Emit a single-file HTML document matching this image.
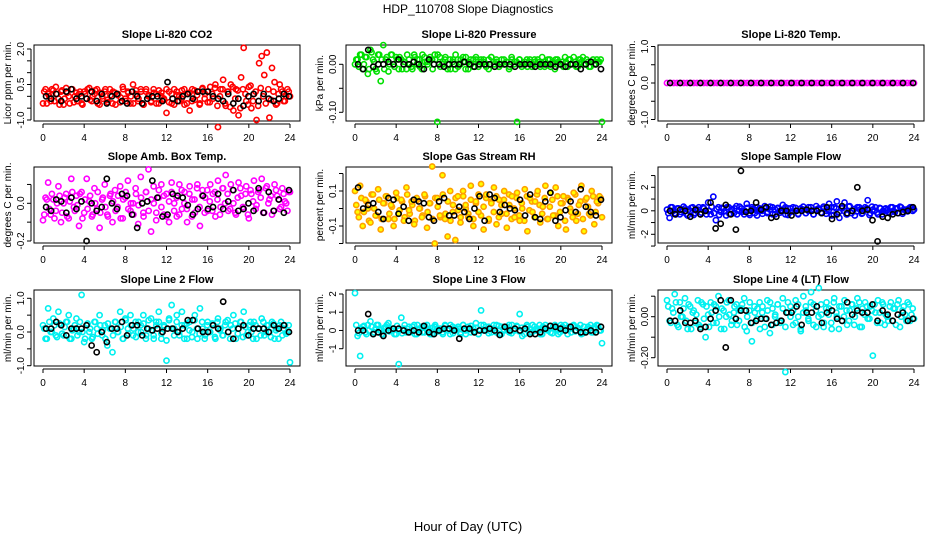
<!DOCTYPE html>
<html><head><meta charset="utf-8"><style>
html,body{margin:0;padding:0;background:#fff;}
svg{display:block;font-family:"Liberation Sans",Arial,sans-serif;}
</style></head><body>
<svg id="chart" width="936" height="540" viewBox="0 0 936 540">
<text x="468" y="13" text-anchor="middle" font-size="12">HDP_110708  Slope Diagnostics</text>
<text x="468" y="531" text-anchor="middle" font-size="13">Hour of Day (UTC)</text>
</svg>
<script>
const panelTitles = ["Slope Li-820 CO2","Slope Li-820 Pressure","Slope Li-820 Temp.","Slope Amb. Box Temp.","Slope Gas Stream RH","Slope Sample Flow","Slope Line 2 Flow","Slope Line 3 Flow","Slope Line 4 (LT) Flow"];
const yTitles = ["Licor ppm per min.","kPa per min.","degrees C per min.","degrees C per min.","percent per min.","ml/min per min.","ml/min per min.","ml/min per min.","ml/min per min."];
const xTicks = [0,4,8,12,16,20,24];
const yTickVals = [[-1,-0.5,0,0.5,1,1.5,2],[0,-0.05,-0.1],[-1,-0.5,0,0.5,1],[-0.2,-0.1,0,0.1],[-0.2,-0.1,0,0.1,0.2],[-3,-2,-1,0,1,2,3],[-1,-0.5,0,0.5,1],[-1,0,1,2],[-0.2,-0.1,0,0.1]];
const yTickLabels = [{"-1":"-1.0","0.5":"0.5","2":"2.0"},{"0":"0.00","-0.1":"-0.10"},{"1":"1.0","0":"0.0","-1":"-1.0"},{"0":"0.0","-0.2":"-0.2"},{"0.1":"0.1","-0.1":"-0.1"},{"2":"2","0":"0","-2":"-2"},{"1":"1.0","0":"0.0","-1":"-1.0"},{"2":"2","1":"1","0":"0","-1":"-1"},{"0":"0.00","-0.2":"-0.20"}];
const c1 = [-0.3,0.3,0.1,-0.2,0.25,0.4,-0.1,0.2,-0.35,0.35,0.0,0.3,-0.25,0.15,0.1,-0.3,0.2,-0.1,0.35,-0.2,0.1,0.3,-0.35,0.0,0.2,-0.15,0.3,-0.3,0.15,0.05,-0.25,0.4,-0.1,0.2,-0.3,0.5,0.1,-0.2,0.3,-0.35,0.2,0.0,-0.25,0.3,0.1,-0.3,0.15,-0.1,-0.7,0.2,-0.3,0.3,0.05,-0.2,0.25,-0.35,0.1,-0.6,0.3,-0.15,0.2,-0.3,0.35,0.1,-0.25,0.4,-0.1,0.5,-1.3,0.3,0.7,-0.4,0.2,0.5,-0.6,0.3,-0.8,0.8,2.05,-0.2,0.4,-0.5,0.1,-1.0,1.4,1.7,0.9,1.85,-0.9,1.2,0.6,-0.3,0.5,0.2,-0.2,0.3,0.0];
const b1 = [0.2,-0.3,0.0,0.3,-0.2,0.1,-0.35,0.25,-0.1,0.15,-0.3,0.3,0.0,-0.2,0.2,-0.35,0.1,0.3,-0.15,0.0,0.25,-0.3,0.15,-0.1,0.3,-0.25,0.05,0.2,-0.35,0.1,-0.05,0.3,-0.2,0.15,0.0,-0.3,0.25,-0.1,0.2,-0.35,0.3,0.05,-0.2,0.15,-0.3,0.25,0.0,-0.15,0.3,-0.25,0.1,-0.35,0.2,0.0,-0.1,0.3,-0.3,0.15,-0.2,0.25,0.05,-0.35,0.3,-0.1,0.2,-0.25,0.1,0.35,-0.4,0.0,0.3,-0.3,0.2,-0.45,0.4,-0.1,0.25,-0.5,0.3,0.1,-0.35,0.45,-0.2,0.2,-0.4,0.35,0.0,-0.3,0.3,-0.15,0.2,-0.35,0.1,0.3,-0.2,0.0,0.2];
const k1 = [0.0,-0.1,0.1,-0.2,0.2,0.3,-0.1,0.0,-0.1,0.2,-0.2,0.1,-0.3,0.0,0.1,-0.2,-0.3,0.2,0.0,-0.3,-0.1,0.0,0.0,-0.2,0.6,-0.1,-0.2,0.0,0.1,-0.1,0.2,0.2,0.2,0.0,-0.1,-0.2,0.1,-0.3,-0.1,-0.4,0.0,0.1,-0.2,0.1,-0.1,-0.2,-0.1,0.1,0.0];
const c2 = [0.0,0.01,0.02,-0.01,0.015,-0.02,0.03,0.01,-0.01,0.02,-0.035,0.04,0.01,-0.015,0.02,0.0,0.015,-0.01,0.01,0.005,-0.01,0.01,-0.005,0.02,0.0,0.01,-0.01,0.015,0.005,0.01,0.01,0.02,-0.12,0.015,0.0,0.01,-0.01,0.01,0.005,-0.01,0.01,0.0,0.015,-0.01,0.005,0.01,-0.005,0.01,0.0,0.01,0.005,-0.005,0.01,0.015,0.0,0.005,-0.005,0.01,0.0,0.005,-0.005,0.01,0.005,-0.12,0.01,0.0,0.005,-0.005,0.01,0.0,0.005,0.01,-0.005,0.0,0.005,0.01,-0.005,0.0,0.01,0.005,0.0,-0.005,0.005,0.01,0.0,0.015,-0.005,0.01,0.005,0.0,0.01,-0.005,0.005,0.0,0.01,0.005,-0.12];
const b2 = [0.01,-0.005,0.02,0.0,0.015,-0.01,0.025,0.005,-0.015,0.02,0.01,-0.01,0.015,0.0,0.02,-0.005,0.01,0.015,-0.01,0.005,0.02,0.0,-0.01,0.015,0.01,-0.005,0.02,0.005,0.0,0.015,-0.01,0.01,0.02,-0.005,0.005,0.015,0.0,-0.01,0.01,0.02,-0.005,0.01,0.005,0.015,-0.01,0.0,0.01,0.015,-0.005,0.005,0.01,0.0,-0.01,0.015,0.005,0.01,-0.005,0.0,0.01,0.005,-0.01,0.015,0.0,0.005,0.01,-0.005,0.0,0.01,0.005,-0.005,0.01,0.0,0.005,0.015,-0.005,0.0,0.01,0.005,-0.01,0.01,0.0,0.005,0.015,-0.005,0.01,0.0,0.005,-0.005,0.01,0.015,0.0,0.005,-0.005,0.01,0.0,0.005,0.01];
const k2 = [0.0,-0.01,0.03,-0.005,0.0,0.0,0.005,0.0,0.01,0.0,0.0,0.005,0.0,-0.01,0.01,0.0,0.0,-0.005,0.0,0.0,0.0,0.005,0.0,-0.005,0.0,0.0,0.0,-0.005,0.0,0.0,0.0,-0.005,0.0,0.0,0.0,-0.005,0.0,0.0,0.0,-0.005,0.0,-0.005,0.0,0.0,-0.01,0.0,0.005,0.0,-0.01];
const c3 = [0,0,0,0,0,0,0,0,0,0,0,0,0,0,0,0,0,0,0,0,0,0,0,0,0,0,0,0,0,0,0,0,0,0,0,0,0,0,0,0,0,0,0,0,0,0,0,0,0,0,0,0,0,0,0,0,0,0,0,0,0,0,0,0,0,0,0,0,0,0,0,0,0,0,0];
const b3 = [];
const k3 = [0,0,0,0,0,0,0,0,0,0,0,0,0,0,0,0,0,0,0,0,0,0,0,0,0];
const c4 = [-0.09,0.03,0.11,-0.06,0.02,-0.04,0.09,-0.1,0.0,0.05,-0.08,0.13,-0.02,0.04,-0.12,0.06,-0.05,0.13,0.01,-0.07,0.08,-0.03,-0.13,0.02,0.1,-0.06,0.04,-0.1,0.07,-0.02,0.09,-0.08,0.03,0.12,-0.04,0.0,0.08,-0.11,0.14,-0.05,0.06,0.18,-0.15,0.09,-0.09,0.03,0.1,-0.06,0.05,-0.1,0.11,0.0,-0.07,0.1,-0.03,0.06,-0.1,0.09,0.02,-0.05,0.1,-0.12,0.07,0.03,-0.04,0.1,0.05,-0.07,0.12,-0.02,0.08,0.15,-0.04,0.1,0.0,-0.06,0.11,0.04,-0.03,0.09,-0.08,0.05,0.12,-0.01,0.07,0.13,-0.05,0.09,0.02,-0.06,0.1,0.04,-0.03,0.08,0.01,-0.04,0.06];
const b4 = [-0.06,0.02,-0.03,0.05,-0.08,0.0,0.04,-0.05,0.03,-0.07,0.01,0.06,-0.04,-0.01,0.05,-0.08,0.02,-0.03,0.04,-0.06,0.0,0.06,-0.05,0.03,-0.02,-0.07,0.05,0.01,-0.04,0.04,-0.08,0.02,0.06,-0.03,0.0,-0.06,0.05,-0.01,0.03,-0.07,0.06,-0.04,0.02,0.0,-0.05,0.07,-0.02,0.04,-0.07,0.01,0.06,-0.04,0.03,-0.06,0.07,0.0,-0.03,0.05,-0.07,0.02,0.08,-0.02,0.04,-0.05,0.07,0.01,-0.04,0.06,0.02,-0.06,0.08,0.0,0.05,-0.03,0.07,-0.05,0.03,0.08,-0.02,0.05,-0.06,0.07,0.01,-0.03,0.06,0.03,-0.05,0.08,0.0,0.04,-0.04,0.07,0.02,-0.02,0.05,0.0,0.06];
const k4 = [-0.02,-0.04,0.02,0.01,-0.05,0.03,-0.03,0.01,-0.2,0.0,-0.04,-0.02,0.13,0.0,-0.03,0.05,0.04,-0.06,-0.13,0.0,0.01,0.12,0.03,-0.07,-0.06,0.05,0.04,0.03,-0.01,-0.06,-0.03,0.04,-0.03,-0.02,0.05,-0.03,0.01,0.07,-0.04,-0.03,0.0,-0.04,0.08,-0.05,0.06,-0.04,0.02,-0.05,0.07];
const c5 = [0.1,-0.02,0.13,-0.1,0.05,0.0,-0.08,0.08,-0.04,0.11,-0.12,0.03,0.07,-0.06,0.02,-0.1,0.09,-0.03,0.05,-0.07,0.12,-0.01,0.04,-0.09,0.06,0.0,-0.05,0.08,-0.11,0.03,0.24,-0.2,0.06,-0.04,0.19,-0.06,-0.16,0.1,-0.02,-0.18,0.07,-0.08,0.1,0.02,-0.05,0.13,-0.1,0.04,-0.02,0.14,-0.12,0.08,-0.06,0.03,0.12,-0.09,0.05,-0.03,0.1,-0.11,0.02,0.07,-0.05,0.09,-0.07,0.0,0.11,-0.13,0.06,-0.02,0.04,0.1,-0.08,0.01,0.13,-0.06,0.09,-0.04,0.12,-0.1,0.03,0.07,-0.12,0.05,-0.02,0.09,-0.07,0.02,0.13,-0.13,0.06,-0.03,0.1,-0.09,0.04,0.07,-0.05];
const b5 = [0.02,-0.05,0.06,-0.02,0.04,-0.07,0.08,0.0,-0.04,0.05,-0.06,0.03,0.07,-0.03,0.01,-0.06,0.06,-0.01,0.04,-0.05,0.08,-0.03,0.02,-0.07,0.05,0.0,-0.04,0.07,-0.02,0.03,-0.06,0.06,0.01,-0.05,0.08,-0.03,0.04,-0.07,0.02,0.06,-0.01,-0.05,0.07,0.0,-0.03,0.05,-0.06,0.03,0.08,-0.04,0.01,0.06,-0.07,0.04,-0.02,0.07,-0.05,0.02,0.05,-0.03,0.08,-0.06,0.0,0.06,-0.04,0.03,-0.07,0.07,-0.01,0.04,-0.05,0.08,0.02,-0.03,0.06,-0.06,0.01,0.05,-0.04,0.07,-0.02,0.03,-0.07,0.06,0.0,-0.05,0.08,-0.03,0.04,-0.06,0.05,0.01,-0.04,0.07,-0.02,0.03,0.06];
const k5 = [0.12,0.0,0.02,0.03,-0.02,-0.06,0.06,0.05,-0.03,0.01,-0.07,0.05,0.04,0.03,-0.05,-0.07,0.04,0.06,-0.04,-0.04,0.01,-0.02,-0.06,0.0,0.07,-0.07,0.08,0.06,-0.02,0.02,0.0,-0.01,0.05,-0.04,0.08,-0.05,-0.06,0.04,0.09,-0.07,-0.05,-0.01,0.04,-0.02,0.11,0.01,-0.02,-0.04,0.05];
const c6 = [0.1,-0.6,0.3,-0.2,0.2,-0.3,0.1,0.2,-0.4,0.0,0.3,-0.2,0.1,-0.3,0.3,0.0,0.7,-0.3,1.2,-0.8,0.3,-0.1,0.2,-0.4,0.3,0.1,-0.2,0.4,0.0,0.2,-0.3,0.6,-0.2,0.3,0.1,-0.4,0.2,0.0,0.4,-0.2,0.1,0.3,-0.3,0.2,0.0,0.5,-0.3,0.2,-0.1,0.3,0.0,-0.3,0.2,0.1,-0.2,0.3,0.0,-0.3,0.4,0.1,-0.2,0.2,0.0,0.6,-0.4,0.3,0.8,-0.6,0.2,0.7,-0.3,0.4,0.0,-0.4,0.3,0.1,-0.2,0.3,0.9,-0.2,0.1,0.3,-0.3,0.2,0.0,0.2,-0.1,0.3,0.0,0.2,-0.2,0.3,0.1,0.0,0.2,0.3,0.1];
const b6 = [-0.2,0.3,0.0,-0.3,0.2,-0.1,0.35,-0.25,0.1,0.25,-0.35,0.05,0.3,-0.15,0.2,-0.3,0.0,0.35,-0.2,0.15,-0.35,0.25,-0.05,0.3,-0.25,0.1,0.2,-0.3,0.35,-0.1,0.0,0.25,-0.35,0.15,-0.2,0.3,0.05,-0.25,0.2,-0.1,0.35,-0.3,0.1,0.25,-0.15,0.0,0.3,-0.35,0.2,-0.05,0.25,-0.25,0.15,0.35,-0.2,0.0,0.3,-0.3,0.1,0.2,-0.15,0.35,-0.25,0.05,0.3,-0.35,0.2,-0.1,0.25,0.0,-0.3,0.35,-0.2,0.15,-0.05,0.3,-0.25,0.1,0.2,-0.35,0.35,0.0,-0.15,0.25,-0.3,0.15,0.05,-0.2,0.3,-0.1,0.2,0.35,-0.25,0.1,-0.05,0.3,0.0];
const k6 = [0.0,-0.3,0.1,0.0,-0.5,0.1,-0.3,0.0,0.7,-1.5,-1.1,0.5,-0.3,-1.6,3.4,-0.1,0.0,0.7,0.1,0.3,-0.6,-0.5,0.0,0.0,-0.4,0.0,0.0,0.1,0.0,0.0,-0.2,0.3,-0.7,-0.3,0.4,-0.2,0.0,2.0,0.0,0.1,-0.8,-2.6,-0.5,-0.6,-0.3,-0.2,-0.1,0.0,0.3];
const c7 = [0.2,-0.2,0.7,0.0,0.4,-0.1,0.6,0.2,-0.1,0.3,0.5,-0.2,0.1,0.4,0.0,1.1,-0.3,0.2,0.0,-0.2,0.3,0.1,0.5,-0.1,0.2,-0.4,0.1,-0.6,0.3,0.0,0.6,-0.2,0.4,0.1,0.5,-0.1,0.3,0.0,0.2,0.5,-0.2,0.1,0.4,-0.1,0.3,0.6,-0.2,0.2,-0.85,0.4,0.8,0.1,0.5,-0.1,0.6,0.2,-0.2,0.3,0.0,0.5,-0.2,0.7,0.1,-0.1,0.3,0.0,0.2,-0.2,0.4,0.1,-0.1,0.3,0.0,0.2,0.5,-0.2,0.1,0.3,0.6,-0.1,0.2,0.0,0.3,-0.2,0.1,0.4,-0.1,0.2,0.0,0.3,-0.2,0.1,0.2,-0.1,0.2,0.0,-0.9];
const b7 = [0.1,-0.2,0.3,0.0,0.2,-0.15,0.25,-0.05,0.15,0.3,-0.2,0.05,0.2,-0.1,0.3,0.0,-0.2,0.25,0.1,-0.15,0.3,-0.05,0.2,0.05,-0.2,0.25,0.1,-0.1,0.3,0.0,0.15,-0.2,0.35,-0.05,0.2,0.1,-0.15,0.3,0.0,0.25,-0.1,0.35,0.05,-0.2,0.2,0.3,-0.05,0.15,-0.25,0.35,0.1,-0.1,0.3,0.0,0.2,-0.2,0.25,0.05,-0.15,0.35,0.1,-0.05,0.3,-0.2,0.2,0.0,0.25,-0.15,0.3,0.05,-0.1,0.2,0.35,-0.2,0.1,0.25,-0.05,0.3,-0.15,0.15,0.0,0.3,-0.2,0.2,0.1,-0.1,0.3,0.0,0.2,-0.15,0.25,0.05,-0.2,0.3,0.1,-0.05,0.2];
const k7 = [0.1,0.1,0.3,0.2,-0.1,0.1,0.1,0.1,0.2,-0.4,-0.6,0.0,-0.3,0.1,0.1,0.3,-0.1,0.2,0.2,-0.1,0.1,0.05,0.1,0.0,0.1,0.1,0.0,0.1,0.35,0.35,0.1,0.0,0.0,0.2,0.1,0.9,0.0,-0.2,0.1,0.2,-0.1,0.1,0.1,0.1,0.0,0.2,0.1,0.2,0.0];
const c8 = [2.05,-0.3,-1.4,0.2,-0.1,0.3,0.5,-0.2,0.1,0.3,0.0,-0.2,0.2,0.4,0.0,0.1,-0.2,-1.85,0.7,0.1,-0.1,0.2,0.0,0.3,-0.2,0.1,0.2,-0.1,0.3,0.0,-0.2,0.2,0.1,0.0,-0.1,0.3,0.1,-0.2,0.2,0.0,0.1,-0.2,0.3,0.0,0.2,-0.1,0.1,0.4,-0.2,1.1,0.3,0.0,0.2,-0.1,0.1,0.3,-0.2,0.2,0.0,0.1,-0.1,0.3,0.0,0.2,0.9,-0.3,0.1,0.2,-0.1,0.3,0.0,0.1,-0.2,0.2,0.3,0.0,-0.1,0.2,0.1,-0.2,0.3,0.0,0.1,0.2,-0.1,0.3,0.0,0.1,-0.2,0.2,0.0,0.1,-0.1,0.2,0.3,0.0,-0.7];
const b8 = [0.3,-0.15,0.1,0.25,-0.2,0.0,0.2,-0.1,0.3,0.05,-0.2,0.15,0.3,-0.05,0.1,-0.2,0.25,0.0,-0.15,0.3,0.1,-0.1,0.2,-0.2,0.3,0.05,-0.1,0.25,0.0,-0.2,0.15,0.3,-0.05,0.1,-0.2,0.25,0.0,0.3,-0.15,0.1,0.2,-0.1,0.3,-0.2,0.05,0.25,-0.05,0.15,-0.2,0.3,0.0,0.2,-0.15,0.1,0.3,-0.1,0.25,-0.2,0.05,0.2,0.3,-0.15,0.0,0.25,-0.05,0.15,-0.2,0.3,0.1,-0.1,0.2,0.0,0.3,-0.2,0.15,0.05,0.25,-0.15,0.3,0.0,-0.1,0.2,0.3,-0.2,0.1,0.25,-0.05,0.15,0.3,-0.15,0.0,0.2,0.3,-0.1,0.1,0.25,0.0];
const k8 = [0.0,0.0,0.9,-0.2,-0.1,-0.3,0.0,0.1,0.1,0.0,-0.1,0.0,-0.1,0.25,-0.1,-0.2,0.0,0.1,0.1,0.0,-0.45,0.1,0.1,-0.1,0.0,0.0,0.1,0.0,-0.25,0.2,0.0,0.1,0.0,0.1,-0.2,-0.2,-0.1,0.1,0.25,0.2,0.1,0.0,0.2,0.0,-0.1,-0.1,0.0,-0.1,0.2];
const c9 = [0.08,-0.02,0.04,0.11,-0.04,0.07,0.0,0.09,-0.06,0.05,0.02,-0.03,0.08,-0.05,0.06,-0.1,0.01,0.07,-0.03,0.05,0.1,-0.06,0.03,0.0,0.08,-0.04,0.02,0.06,-0.02,0.04,0.09,-0.07,0.03,-0.12,0.05,-0.01,0.07,0.02,-0.05,0.08,-0.08,0.04,0.0,0.06,-0.03,0.09,-0.27,0.02,0.05,-0.04,0.08,0.0,-0.07,0.1,0.03,-0.02,0.12,0.06,-0.05,0.14,0.01,-0.03,0.07,0.04,-0.06,0.09,0.0,0.05,-0.02,0.08,-0.04,0.03,0.06,0.0,0.09,-0.05,0.04,0.07,-0.01,0.05,-0.19,0.02,0.08,-0.03,0.06,0.01,-0.02,0.07,0.04,-0.04,0.08,0.0,0.05,-0.02,0.06,0.01,-0.01];
const b9 = [0.05,-0.03,0.02,0.07,-0.05,0.0,0.04,-0.02,0.06,-0.06,0.03,0.01,-0.04,0.07,-0.01,0.05,-0.05,0.02,0.06,-0.03,0.0,0.04,-0.06,0.07,0.01,-0.02,0.05,-0.04,0.03,0.06,-0.05,0.0,0.07,-0.03,0.02,0.04,-0.06,0.05,-0.01,0.03,0.07,-0.04,0.01,0.06,-0.02,0.04,-0.05,0.07,0.0,0.03,-0.03,0.06,-0.06,0.02,0.05,-0.01,0.07,-0.04,0.03,0.0,0.06,-0.05,0.04,0.01,-0.03,0.07,0.02,-0.06,0.05,0.0,0.03,-0.02,0.06,-0.04,0.04,0.07,-0.05,0.01,0.05,-0.01,0.03,0.06,-0.03,0.02,0.07,-0.04,0.0,0.05,-0.02,0.04,0.06,-0.05,0.03,0.01,0.07,-0.02,0.04];
const k9 = [-0.02,-0.02,0.03,-0.03,-0.03,-0.02,-0.06,-0.05,-0.01,0.03,0.08,-0.15,0.08,-0.01,0.03,0.03,-0.03,-0.02,-0.01,-0.01,-0.04,-0.03,-0.02,0.02,0.02,0.05,-0.04,0.02,0.02,0.05,-0.03,0.02,0.03,-0.01,-0.02,0.07,0.01,0.03,0.02,0.02,0.06,-0.02,0.03,0.01,-0.02,0.01,0.02,-0.02,-0.01];
const colorSeries = [c1,c2,c3,c4,c5,c6,c7,c8,c9];
const bandSeries = [b1,b2,b3,b4,b5,b6,b7,b8,b9];
const blackSeries = [k1,k2,k3,k4,k5,k6,k7,k8,k9];

// layout (not data)
const colors = ["#ff0000","#00e000","#ff00ff","#ff00ff","#ffa000","#0000ff","#00f0f0","#00f0f0","#00f0f0"];
const colLeft = [34,346,658];
const rowTop = [45,167,290];
const boxW = 266, boxH = 76;
const yRef = [[2,49,-1,120],[0,64.3,-0.1,112.3],[1,46.5,-1,119.5],[0,203.3,-0.2,241],[0.1,191,-0.1,226],[2,187.3,-2,234.3],[1,298.3,-1,365.7],[2,294,-1,348.7],[0,316.7,-0.2,357.7]];
const NS = "http://www.w3.org/2000/svg";
const svg = document.getElementById("chart");
function mk(tag, attrs, parent){ const e=document.createElementNS(NS,tag); for(const k in attrs) e.setAttribute(k,attrs[k]); (parent||svg).appendChild(e); return e; }

for (let p=0;p<9;p++){
  const L = colLeft[p%3], T = rowTop[Math.floor(p/3)];
  const xs = h => L + 9 + h*(247/24);
  const r = yRef[p];
  const ys = v => r[1] + (v - r[0])*(r[3]-r[1])/(r[2]-r[0]);
  const g = mk("g",{});
  
  
  const t = mk("text",{x:L+boxW/2,y:T-7,"text-anchor":"middle","font-size":"11","font-weight":"bold"},g);
  t.textContent = panelTitles[p];
  
  
  const yt = mk("text",{x:0,y:0,"text-anchor":"middle","font-size":"10",transform:`translate(${L-23},${T+boxH/2}) rotate(-90)`},g);
  yt.textContent = yTitles[p];
  
  
  const ax = mk("g",{stroke:"#000","stroke-width":"1"},g);
  
  
  mk("line",{x1:xs(0),x2:xs(24),y1:T+boxH+3,y2:T+boxH+3},ax);
  xTicks.forEach(h=>{
    mk("line",{x1:xs(h),x2:xs(h),y1:T+boxH+3,y2:T+boxH+7},ax);
    const lb = mk("text",{x:xs(h),y:T+boxH+20,"text-anchor":"middle","font-size":"10",stroke:"none"},g);
    lb.textContent = h;
    
    
  });
  const ay = mk("g",{stroke:"#000","stroke-width":"1"},g);
  
  
  const tv = yTickVals[p];
  mk("line",{x1:L-3,x2:L-3,y1:ys(Math.min(...tv)),y2:ys(Math.max(...tv))},ay);
  tv.forEach(v=>{
    mk("line",{x1:L-7,x2:L-3,y1:ys(v),y2:ys(v)},ay);
    const key = String(v);
    if (yTickLabels[p][key] !== undefined){
      const lb = mk("text",{x:0,y:0,"text-anchor":"middle","font-size":"10",transform:`translate(${L-10},${ys(v)}) rotate(-90)`},g);
      lb.textContent = yTickLabels[p][key];
      
      
    }
  });
  const bx = mk("rect",{x:L,y:T,width:boxW,height:boxH,fill:"none",stroke:"#000","stroke-width":"1"},g);
  
  
  const cg = mk("g",{fill:p===4?"#ffff00":"none",stroke:colors[p],"stroke-width":"1.6"},g);
  
  
  const bs2 = bandSeries[p];
  bs2.forEach((v,i)=>{
    const h = (i+0.5)*24/(bs2.length);
    const c = mk("circle",{cx:xs(h),cy:ys(v),r:2.6},cg);
    
    
  });
  const cs = colorSeries[p];
  cs.forEach((v,i)=>{
    const h = i*24/(cs.length-1);
    const c = mk("circle",{cx:xs(h),cy:ys(v),r:2.6},cg);
    
    
  });
  const bs = blackSeries[p];
  const bg = mk("g",{fill:"none",stroke:"#000","stroke-width":"1.6"},g);
  
  
  bs.forEach((v,i)=>{
    const h = 0.3 + i*23.6/(bs.length-1);
    const c = mk("circle",{cx:xs(h),cy:ys(v),r:2.6},bg);
    
    
  });
}
</script>
</body></html>
